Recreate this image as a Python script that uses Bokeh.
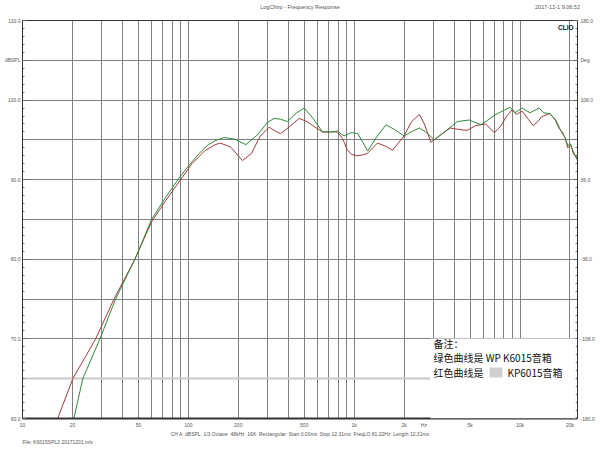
from bokeh.plotting import figure
from bokeh.models import FixedTicker, LinearAxis, Range1d, Label, Grid, BoxAnnotation, Title, LinearScale
from bokeh.embed import file_html
from bokeh.resources import INLINE

# ---- data ----
green_f = [19.0, 20.4, 23.1, 29.3, 36.4, 47.6, 60, 72, 86.5, 100, 115, 130, 145, 164, 190, 222, 260, 300, 329, 360,
           396, 450, 499, 560, 644, 720, 793, 869, 955, 1050, 1120, 1205, 1380, 1555, 1750, 2000, 2200, 2470, 2700,
           3050, 3600, 4180, 4930, 5810, 6400, 7000, 7800, 8700, 9300, 10300, 11500, 13000, 13900, 15200, 16300,
           17200, 18000, 18700, 19400, 20200, 21000, 21700, 22500]
green_db = [58.5, 60.0, 65.0, 70.0, 75.0, 80.0, 85.0, 87.6, 90.0, 91.7, 93.2, 94.3, 94.9, 95.3, 95.1, 94.4, 95.6,
            97.2, 97.7, 97.6, 97.3, 98.4, 99.0, 97.8, 96.0, 96.0, 96.1, 95.5, 95.9, 95.8, 94.8, 93.6, 95.5, 96.9,
            96.3, 95.5, 96.0, 96.5, 96.0, 95.0, 96.2, 97.3, 97.5, 96.9, 97.5, 98.1, 98.6, 99.1, 98.4, 99.0, 98.4,
            99.0, 98.4, 98.3, 97.5, 96.4, 96.0, 95.2, 94.3, 94.5, 93.2, 93.0, 92.2]

red_f = [15.5, 16.3, 20.1, 27.6, 35.6, 47.6, 60, 72, 89.8, 105, 125, 145, 156, 180, 212, 240, 270, 307, 335, 360,
         410, 465, 520, 580, 644, 720, 793, 850, 906, 960, 1030, 1120, 1200, 1380, 1550, 1700, 2000, 2200, 2470,
         2650, 2900, 3300, 3800, 4300, 4800, 5400, 6200, 7000, 7700, 8300, 9000, 9500, 10300, 11200, 12000, 12800,
         13500, 15000, 16300, 17200, 18000, 18700, 19400, 20200, 21000, 21700, 22500]
red_db = [58.8, 60.0, 65.0, 70.0, 75.0, 80.0, 84.7, 87.2, 90.0, 92.0, 93.6, 94.4, 94.6, 94.1, 92.4, 93.3, 95.4,
          96.6, 96.1, 95.8, 96.7, 97.7, 97.3, 96.6, 96.0, 96.0, 96.0, 95.2, 93.8, 93.2, 93.0, 93.1, 93.3, 94.6,
          94.2, 93.7, 95.5, 97.2, 98.2, 97.0, 94.7, 95.6, 96.5, 96.3, 96.2, 96.8, 97.0, 95.9, 96.8, 98.0, 98.8,
          98.2, 98.6, 97.6, 96.8, 97.3, 97.9, 98.3, 97.6, 96.6, 95.8, 95.3, 94.0, 94.3, 93.5, 92.8, 92.3]

x_ticks = [10, 20, 50, 100, 200, 500, 1000, 2000, 2630, 5000, 10000, 20000]
x_tick_labels = ["10", "20", "50", "100", "200", "500", "1k", "2k", "Hz", "5k", "10k", "20k"]
x_grid = [20, 30, 40, 50, 60, 70, 80, 90, 100, 200, 300, 400, 500, 600, 700, 800, 900, 1000,
          2000, 3000, 4000, 5000, 6000, 7000, 8000, 9000, 10000, 20000]
y_ticks = [60, 70, 80, 90, 100, 105, 110]
y_tick_labels = ["60.0", "70.0", "80.0", "90.0", "100.0", "dBSPL", "110.0"]
deg_ticks = [-180, -108, -36, 36, 108, 144, 180]
deg_tick_labels = ["-180.0", "-108.0", "-36.0", "36.0", "108.0", "Deg", "180.0"]

title_text = "LogChirp - Frequency Response"
date_text = "2017-12-1 9.06.52"
info_text = "\u00a0\u00a0".join(["CH A", "dBSPL", "1/3 Octave", "48kHz", "16K", "Rectangular",
                                 "Start 0.00ms", "Stop 12.31ms", "FreqLO 81.22Hz", "Length 12.31ms"])
file_text = "File: K6015SPL2 20171201.mls"

GRID = "#7f7f7f"
TXT = "#555555"
FS = "5px"

p = figure(width=600, height=450, x_axis_type="log", x_range=(10, 22200), y_range=(60, 110),
           output_backend="svg", toolbar_location=None,
           min_border_left=22, min_border_right=23, min_border_top=15, min_border_bottom=32,
           background_fill_color="white", border_fill_color="white")
p.outline_line_color = "#333333"

# bottom axis
xa = p.xaxis[0]
xa.ticker = FixedTicker(ticks=x_ticks)
xa.major_label_overrides = {t: l for t, l in zip(x_ticks, x_tick_labels)}
xa.major_tick_in = 0
xa.major_tick_out = 0
xa.minor_tick_in = 0
xa.minor_tick_out = 0
xa.major_label_standoff = 3
xa.major_label_text_font_size = FS
xa.major_label_text_color = TXT
xa.axis_line_color = "#333333"
xa.axis_line_width = 2
xa.axis_label = info_text
xa.axis_label_text_font_size = FS
xa.axis_label_text_font_style = "normal"
xa.axis_label_text_color = TXT
xa.axis_label_standoff = 0

p.add_layout(Title(text=file_text, align="left", text_font_size=FS, text_font_style="normal",
                   text_color=TXT, standoff=-5, text_line_height=1.0), "below")

# top text row (title and date) via an unlabeled top axis on a linear 0..1 scale
p.extra_x_ranges = {"top": Range1d(0, 1)}
p.extra_x_scales = {"top": LinearScale()}
ta = LinearAxis(x_range_name="top")
ta.ticker = FixedTicker(ticks=[0.5, 0.964])
ta.major_label_overrides = {0.5: title_text, 0.964: date_text}
ta.axis_line_color = None
ta.major_tick_line_color = None
ta.minor_tick_line_color = None
ta.major_label_standoff = 5
ta.major_label_text_font_size = "5.5px"
ta.major_label_text_color = TXT
p.add_layout(ta, "above")

# left axis
ya = p.yaxis[0]
ya.ticker = FixedTicker(ticks=y_ticks, minor_ticks=list(range(60, 111)))
ya.major_label_overrides = {t: l for t, l in zip(y_ticks, y_tick_labels)}
ya.major_tick_in = 4
ya.major_tick_out = 0
ya.minor_tick_in = 2
ya.minor_tick_out = 0
ya.major_tick_line_color = "#666666"
ya.minor_tick_line_color = "#666666"
ya.major_label_standoff = 2
ya.major_label_text_font_size = FS
ya.major_label_text_color = TXT
ya.axis_line_color = "#333333"

# right axis (phase)
p.extra_y_ranges = {"deg": Range1d(-180, 180)}
ra = LinearAxis(y_range_name="deg")
ra.ticker = FixedTicker(ticks=deg_ticks, minor_ticks=[-180 + 7.2 * i for i in range(51)])
ra.major_label_overrides = {t: l for t, l in zip(deg_ticks, deg_tick_labels)}
ra.major_tick_in = 4
ra.major_tick_out = 0
ra.minor_tick_in = 2
ra.minor_tick_out = 0
ra.major_tick_line_color = "#666666"
ra.minor_tick_line_color = "#666666"
ra.major_label_standoff = 3
ra.major_label_text_font_size = FS
ra.major_label_text_color = TXT
ra.axis_line_color = "#333333"
p.add_layout(ra, "right")

# grids
p.xgrid.ticker = FixedTicker(ticks=x_grid)
p.xgrid.grid_line_color = GRID
p.ygrid.ticker = FixedTicker(ticks=[70, 75, 80, 85, 90, 95, 100, 105])
p.ygrid.grid_line_color = GRID
g65 = Grid(dimension=1, ticker=FixedTicker(ticks=[65]), grid_line_color="#c8c8c8", grid_line_width=2)
p.add_layout(g65)

# curves
p.line(red_f, red_db, line_color="#a33a3a", line_width=1)
p.line(green_f, green_db, line_color="#2f8a3a", line_width=1)

# white note box
p.add_layout(BoxAnnotation(left=408, right=553, bottom=0, top=80,
                           left_units="screen", right_units="screen", bottom_units="screen", top_units="screen",
                           fill_color="white", fill_alpha=1, line_color=None))

def lab(x, y, text, size=FS, align="left", color=TXT, font="Liberation Sans", style="normal"):
    p.add_layout(Label(x=x, y=y, x_units="screen", y_units="screen", text=text, text_font_size=size,
                       text_align=align, text_baseline="middle", text_color=color, text_font=font,
                       text_font_style=style))

# brand mark in the top-right corner of the plot
p.add_layout(Label(x=21000, y=109.6, text="CLIO", text_font_size="6.5px",
                   text_align="right", text_baseline="top", text_color="#111111",
                   text_font="Liberation Sans", text_font_style="bold"))

CJK = "Noto Sans CJK SC"
lab(411, 75, "备注：", size="10px", color="#111111", font=CJK)
lab(411, 61, "绿色曲线是 WP K6015音箱", size="10px", color="#111111", font=CJK)
lab(411, 46, "红色曲线是", size="10px", color="#111111", font=CJK)
p.add_layout(BoxAnnotation(left=467, right=480, bottom=41, top=51,
                           left_units="screen", right_units="screen", bottom_units="screen", top_units="screen",
                           fill_color="#cfcfcf", fill_alpha=1, line_color=None))
lab(485, 46, "KP6015音箱", size="10px", color="#111111", font=CJK)

open("out.html", "w").write(file_html(p, INLINE))
